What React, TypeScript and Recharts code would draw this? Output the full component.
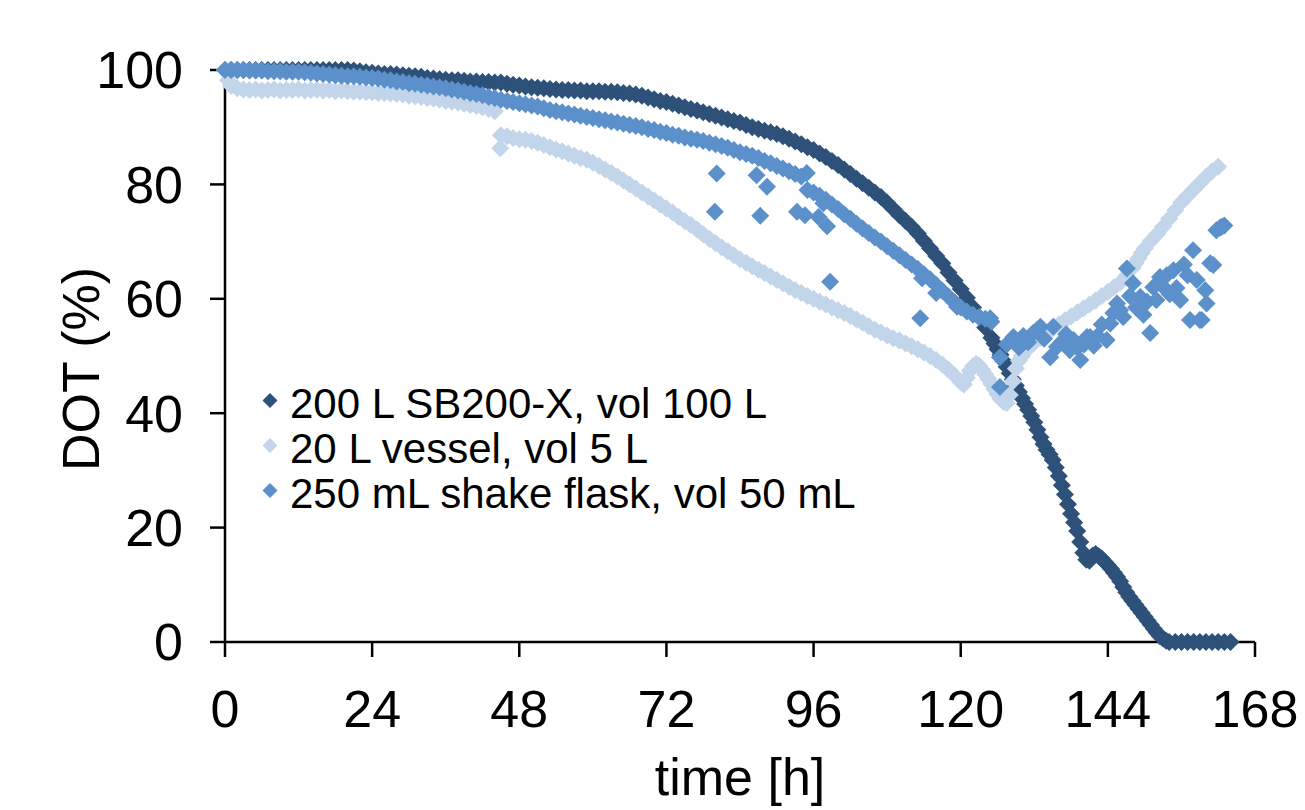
import React from 'react';
import { ScatterChart, Scatter, XAxis, YAxis, Legend } from 'recharts';

const FONT = '"Liberation Sans", Arial, sans-serif';

// [time h, DOT %]
const sb200: [number, number][] = [
  [0, 100], [1, 100], [2, 100], [3, 100], [4, 100], [5, 100], [6, 100], [7, 100], [8, 100], [9, 100],
  [10, 100], [11, 100], [12, 100], [13, 100], [14, 100], [15, 100], [16, 100], [17, 100], [18, 100], [19, 100],
  [20, 100], [21, 99.9], [22, 99.8], [23, 99.6], [24, 99.5], [25, 99.4], [26, 99.3], [27, 99.3], [28, 99.2], [29, 99.1],
  [30, 99.0], [31, 98.9], [32, 98.8], [33, 98.6], [34, 98.5], [35, 98.4], [36, 98.3], [37, 98.2], [38, 98.2], [39, 98.1],
  [40, 98.0], [41, 98.0], [42, 97.9], [43, 97.9], [44, 97.8], [45, 97.8], [46, 97.6], [47, 97.4], [48, 97.3], [49, 97.1],
  [50, 97.0], [51, 96.9], [52, 96.8], [53, 96.7], [54, 96.6], [55, 96.5], [56, 96.5], [57, 96.4], [58, 96.4], [59, 96.3],
  [60, 96.3], [61, 96.3], [62, 96.2], [63, 96.2], [64, 96.1], [65, 96.0], [66, 95.9], [67, 95.7], [68, 95.5], [69, 95.2],
  [70, 94.9], [71, 94.6], [72, 94.4], [73, 94.1], [74, 93.8], [75, 93.5], [76, 93.2], [77, 92.9], [78, 92.6], [79, 92.3],
  [80, 92.0], [81, 91.7], [82, 91.4], [83, 91.1], [84, 90.8], [85, 90.4], [86, 90.0], [87, 89.7], [88, 89.4], [89, 89.1],
  [90, 88.8], [91, 88.4], [92, 88.0], [93, 87.5], [94, 87.0], [95, 86.5], [96, 86.0], [97, 85.4], [98, 84.8], [99, 84.1],
  [100, 83.4], [101, 82.6], [102, 81.8], [103, 81.0], [104, 80.2], [105, 79.4], [106, 78.6], [107, 77.8], [108, 76.8], [109, 75.7],
  [110, 74.6], [111, 73.6], [112, 72.6], [113, 71.4], [114, 70.1], [115, 68.8], [116, 67.5], [117, 66.2], [118, 64.6], [119, 63.2],
  [120, 61.7], [121, 60.2], [122, 58.5], [123, 56.8], [124, 55.0], [125, 53.2], [125.5, 52.2], [126, 51.2], [126.5, 50.2], [127, 49.1],
  [127.5, 48.1], [128, 47.0], [128.5, 45.9], [129, 44.8], [129.5, 43.7], [130, 42.6], [130.5, 41.6], [131, 40.6], [131.5, 39.5], [132, 38.4],
  [132.5, 37.1], [133, 35.8], [133.5, 34.6], [134, 33.6], [134.5, 32.8], [135, 31.8], [135.5, 30.5], [136, 29.0], [136.5, 27.4], [137, 25.8],
  [137.5, 24.1], [138, 22.4], [138.5, 20.9], [139, 19.4], [139.5, 17.5], [140, 15.6], [140.5, 14.4], [141, 14.2], [141.5, 15.1], [142, 15.4],
  [142.5, 15.0], [143, 14.6], [143.5, 14.0], [144, 13.4], [144.5, 12.8], [145, 12.1], [145.5, 11.4], [146, 10.6], [146.5, 9.6], [147, 8.7],
  [147.5, 7.9], [148, 7.2], [148.5, 6.5], [149, 5.8], [149.5, 5.1], [150, 4.4], [150.5, 3.7], [151, 3.0], [151.5, 2.3], [152, 1.6],
  [152.5, 1.0], [153, 0.6], [153.5, 0.2], [154, 0], [155, 0], [156, 0], [157, 0], [158, 0], [159, 0], [160, 0],
  [161, 0], [162, 0], [163, 0], [164, 0],
];

const vessel20: [number, number][] = [
  [0, 100], [0.5, 98.2], [1, 97.2], [2, 96.8], [3, 96.6], [4, 96.5], [5, 96.6], [6, 96.4], [7, 96.5], [8, 96.6],
  [9, 96.4], [10, 96.5], [11, 96.5], [12, 96.6], [13, 96.4], [14, 96.5], [15, 96.5], [16, 96.4], [17, 96.5], [18, 96.3],
  [19, 96.4], [20, 96.3], [21, 96.2], [22, 96.2], [23, 96.1], [24, 96.1], [25, 96.0], [26, 96.0], [27, 95.9], [28, 95.8],
  [29, 95.7], [30, 95.5], [31, 95.4], [32, 95.3], [33, 95.1], [34, 95.0], [35, 94.8], [36, 94.6], [37, 94.5], [38, 94.3],
  [39, 94.1], [40, 93.9], [41, 93.7], [42, 93.5], [43, 93.2], [44, 92.8], [44.9, 86.3], [45, 88.6], [46, 88.4], [47, 88.1],
  [48, 87.9], [49, 87.8], [50, 87.6], [51, 87.3], [52, 86.9], [53, 86.5], [54, 86.1], [55, 85.8], [56, 85.4], [57, 85.0],
  [58, 84.6], [59, 84.3], [60, 83.8], [61, 83.2], [62, 82.6], [63, 82.0], [64, 81.4], [65, 80.7], [66, 80.0], [67, 79.3],
  [68, 78.6], [69, 77.9], [70, 77.2], [71, 76.5], [72, 75.8], [73, 75.1], [74, 74.3], [75, 73.6], [76, 72.9], [77, 72.1],
  [78, 71.3], [79, 70.5], [80, 69.7], [81, 69.0], [82, 68.3], [83, 67.6], [84, 66.9], [85, 66.3], [86, 65.7], [87, 65.1],
  [88, 64.5], [89, 63.9], [90, 63.3], [91, 62.7], [92, 62.1], [93, 61.5], [94, 61.0], [95, 60.5], [96, 60.0], [97, 59.5],
  [98, 59.0], [99, 58.5], [100, 58.0], [101, 57.5], [102, 57.0], [103, 56.4], [104, 55.8], [105, 55.2], [106, 54.6], [107, 54.1],
  [108, 53.6], [109, 53.1], [110, 52.7], [111, 52.2], [112, 51.7], [113, 51.2], [114, 50.6], [115, 50.0], [116, 49.3], [117, 48.5],
  [118, 47.6], [119, 46.6], [120, 45.4], [120.5, 45.0], [121, 46.2], [121.5, 47.4], [122, 48.2], [122.5, 48.6], [123, 48.3], [123.5, 47.6],
  [124, 46.8], [124.5, 46.0], [125, 45.1], [125.5, 44.2], [126, 43.3], [126.5, 42.5], [127, 42.0], [127.5, 41.8], [128, 43.2], [128.5, 45.6],
  [129, 47.8], [129.5, 49.2], [130, 50.0], [131, 51.3], [132, 52.3], [133, 53.2], [134, 54.0], [135, 54.8], [136, 55.5], [137, 56.2],
  [138, 56.9], [139, 57.6], [140, 58.3], [141, 59.0], [142, 59.7], [143, 60.5], [144, 61.2], [145, 62.0], [146, 62.8], [147, 64.0],
  [148, 65.4], [148.5, 66.2], [149, 67.1], [149.5, 68.0], [150, 68.8], [151, 70.1], [152, 71.3], [153, 72.6], [154, 74.0], [155, 75.5],
  [156, 76.9], [157, 78.0], [158, 79.1], [159, 80.2], [160, 81.3], [161, 82.3], [162, 83.1],
];

const flask250: [number, number][] = [
  [0, 100], [1, 100], [2, 100], [3, 100], [4, 99.9], [5, 99.9], [6, 99.9], [7, 99.8], [8, 99.8], [9, 99.8],
  [10, 99.7], [11, 99.7], [12, 99.7], [13, 99.6], [14, 99.5], [15, 99.4], [16, 99.3], [17, 99.2], [18, 99.1], [19, 99.0],
  [20, 98.9], [21, 98.9], [22, 98.8], [23, 98.7], [24, 98.6], [25, 98.5], [26, 98.3], [27, 98.2], [28, 98.0], [29, 97.9],
  [30, 97.7], [31, 97.6], [32, 97.4], [33, 97.3], [34, 97.1], [35, 97.0], [36, 96.8], [37, 96.6], [38, 96.4], [39, 96.2],
  [40, 96.0], [41, 95.8], [42, 95.6], [43, 95.3], [44, 95.1], [45, 94.8], [46, 94.6], [47, 94.4], [48, 94.2], [49, 94.0],
  [50, 93.8], [51, 93.6], [52, 93.3], [53, 93.0], [54, 92.8], [55, 92.6], [56, 92.4], [57, 92.2], [58, 92.0], [59, 91.8],
  [60, 91.6], [61, 91.4], [62, 91.2], [63, 91.0], [64, 90.8], [65, 90.6], [66, 90.4], [67, 90.2], [68, 90.0], [69, 89.7],
  [70, 89.5], [71, 89.2], [72, 89.0], [73, 88.7], [74, 88.5], [75, 88.2], [76, 88.0], [77, 87.8], [78, 87.6], [79, 87.3],
  [80, 87.0], [81, 86.7], [82, 86.4], [83, 86.0], [84, 85.6], [85, 85.3], [86, 85.0], [87, 84.6], [88, 84.1], [89, 83.7],
  [90, 83.2], [91, 82.8], [92, 82.3], [93, 81.8], [94, 81.4], [95, 79.0], [96, 78.6], [97, 78.0], [98, 77.3], [99, 76.5],
  [100, 75.7], [101, 74.8], [102, 74.0], [103, 73.1], [104, 72.3], [105, 71.5], [106, 70.7], [107, 70.0], [108, 69.2], [109, 68.4],
  [110, 67.6], [111, 66.8], [112, 66.0], [113, 65.2], [114, 64.3], [115, 63.4], [116, 62.4], [117, 61.4], [118, 60.4], [119, 59.4],
  [120, 58.5], [121, 57.8], [122, 57.2], [123, 56.8], [124, 56.5], [125, 56.0],
  // scattered readings
  [80.2, 81.9], [79.9, 75.2], [86.7, 81.6], [88.4, 79.6], [87.3, 74.5], [93.3, 75.2], [94.6, 74.6], [96.8, 74.3],
  [98.2, 72.7], [97.6, 76.7], [94.9, 82.0], [98.7, 63.0], [113.4, 56.6], [113.7, 63.6], [116.0, 61.0], [119.4, 58.6],
  [124.8, 56.6], [126.4, 44.6], [126.4, 49.8], [127.5, 52.0], [128.6, 53.3], [129.5, 51.5], [130.2, 53.5], [131.0, 52.4],
  [131.8, 54.0], [132.4, 54.5], [133.0, 55.1], [133.6, 53.0], [134.6, 49.8], [135.1, 55.1], [135.7, 51.6], [136.5, 52.5],
  [137.2, 53.8], [137.8, 51.0], [138.4, 52.8], [139.0, 51.5], [139.5, 49.3], [140.1, 52.0], [140.6, 53.3], [141.1, 53.3],
  [141.7, 51.8], [142.3, 53.5], [143.0, 55.5], [143.8, 52.8], [144.4, 55.7], [144.9, 57.5], [145.5, 59.2], [146.0, 58.0],
  [146.5, 56.8], [147.1, 65.3], [147.6, 60.5], [148.1, 62.7], [148.6, 58.5], [149.3, 60.3], [149.8, 57.2], [150.4, 59.5],
  [150.9, 54.0], [151.4, 62.0], [151.9, 59.8], [152.5, 63.8], [153.0, 62.1], [153.6, 64.1], [154.1, 60.8], [154.7, 65.0],
  [155.2, 61.9], [155.8, 59.8], [156.4, 66.0], [157.0, 64.1], [157.4, 56.3], [157.9, 68.5], [158.5, 63.3], [159.0, 56.3],
  [159.3, 56.3], [159.9, 61.5], [160.1, 59.2], [160.7, 66.2], [161.2, 65.9], [161.7, 72.0], [162.3, 72.4], [162.6, 72.6],
  [163.0, 72.8],
];

const xTicks = [0, 24, 48, 72, 96, 120, 144, 168];
const yTicks = [0, 20, 40, 60, 80, 100];

const series = [
  { name: '200 L SB200-X, vol 100 L', data: sb200, color: '#2d5179' },
  { name: '20 L vessel, vol 5 L', data: vessel20, color: '#c3d5ea' },
  { name: '250 mL shake flask, vol 50 mL', data: flask250, color: '#5b90cb' },
];

const diamond = (r: number) => (props: any) => {
  const { cx, cy, fill } = props;
  if (cx == null || cy == null) return <g />;
  return <path d={`M${cx},${cy - r}L${cx + r},${cy}L${cx},${cy + r}L${cx - r},${cy}Z`} fill={fill} />;
};

const XTitle = (props: any) => {
  const vb = props.viewBox || {};
  const cx = (vb.x ?? 225) + (vb.width ?? 1030) / 2;
  return (
    <text x={cx} y={795} textAnchor="middle" fontSize={52} fontFamily={FONT} fill="#000">
      time [h]
    </text>
  );
};

const YTitle = () => (
  <text transform="translate(99,369) rotate(-90)" textAnchor="middle" fontSize={52} fontFamily={FONT} fill="#000">
    DOT (%)
  </text>
);

// legend keeps the series order of the original figure
const renderLegend = () => (
  <div style={{ fontFamily: FONT, fontSize: 42, lineHeight: '45px', color: '#000' }}>
    {series.map((s) => (
      <div key={s.name} style={{ display: 'flex', height: 45, whiteSpace: 'nowrap' }}>
        <svg width={35} height={45}>
          <path d="M15,12L22.5,19.5L15,27L7.5,19.5Z" fill={s.color} />
        </svg>
        <span>{s.name}</span>
      </div>
    ))}
  </div>
);

export default function App() {
  const axisStroke = { stroke: '#000', strokeWidth: 2.5 };
  return (
    <div style={{ position: 'absolute', left: 0, top: 0, background: '#fff' }}>
      <ScatterChart width={1300} height={810} margin={{ top: 70, right: 45, bottom: 2, left: 0 }}>
        <XAxis
          type="number"
          dataKey="t"
          domain={[0, 168]}
          ticks={xTicks}
          tickSize={15}
          tickMargin={33}
          axisLine={axisStroke}
          tickLine={axisStroke}
          tick={{ fontSize: 52, fill: '#000', fontFamily: FONT }}
          height={166}
          label={<XTitle />}
        />
        <YAxis
          type="number"
          dataKey="v"
          domain={[0, 100]}
          ticks={yTicks}
          tickSize={15}
          tickMargin={27}
          axisLine={axisStroke}
          tickLine={axisStroke}
          tick={{ fontSize: 52, fill: '#000', fontFamily: FONT }}
          width={225}
          label={<YTitle />}
        />
        <Legend
          layout="vertical"
          align="center"
          verticalAlign="middle"
          content={renderLegend}
          wrapperStyle={{ left: 255, top: 381, width: 'auto' }}
        />
        {series.map((s) => (
          <Scatter
            key={s.name}
            name={s.name}
            data={s.data.map(([t, v]) => ({ t, v }))}
            fill={s.color}
            shape={diamond(9)}
            isAnimationActive={false}
          />
        ))}
      </ScatterChart>
    </div>
  );
}
